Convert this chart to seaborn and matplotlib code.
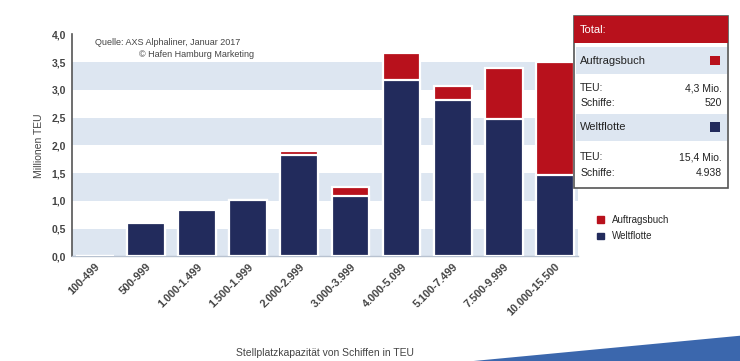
import matplotlib
matplotlib.use("Agg")
import matplotlib.pyplot as plt
from matplotlib.patches import Rectangle, Polygon
import seaborn as sns
import pandas as pd

kategorien = ["100-499", "500-999", "1.000-1.499", "1.500-1.999", "2.000-2.999",
              "3.000-3.999", "4.000-5.099", "5.100-7.499", "7.500-9.999", "10.000-15.500"]
weltflotte = [0.01, 0.60, 0.83, 1.01, 1.83, 1.09, 3.17, 2.82, 2.47, 1.46]
auftragsbuch = [0.0, 0.0, 0.0, 0.01, 0.07, 0.16, 0.49, 0.25, 0.93, 2.04]
y_ticks = [0.0, 0.5, 1.0, 1.5, 2.0, 2.5, 3.0, 3.5, 4.0]
y_labels = ["0,0", "0,5", "1,0", "1,5", "2,0", "2,5", "3,0", "3,5", "4,0"]

ROT = "#b8111c"
NAVY = "#222b5c"
BAND = "#dde6f1"
GRAU = "#444444"

df = pd.DataFrame({"kat": kategorien, "welt": weltflotte, "auftrag": auftragsbuch})
df["gesamt"] = df["welt"] + df["auftrag"]

sns.set_theme(style="white")
plt.rcParams["font.family"] = ["Liberation Sans", "DejaVu Sans"]

fig = plt.figure(figsize=(7.4, 3.61), dpi=100)
ax = fig.add_axes([0.097, 0.29, 0.684, 0.615])

for lo in [0.0, 1.0, 2.0, 3.0]:
    ax.axhspan(lo, lo + 0.5, color=BAND, zorder=0, lw=0)

sns.barplot(data=df, x="kat", y="gesamt", color=ROT, width=0.74, edgecolor="white",
            linewidth=1.6, saturation=1, ax=ax, zorder=2)
sns.barplot(data=df, x="kat", y="welt", color=NAVY, width=0.74, edgecolor="white",
            linewidth=1.6, saturation=1, ax=ax, zorder=3)

ax.set_xlim(-0.45, 9.45)
ax.set_ylim(0, 4.0)
ax.set_yticks(y_ticks)
ax.set_yticklabels(y_labels, fontsize=7.5, color=GRAU, fontweight="bold")
ax.set_xticks(range(len(kategorien)))
ax.set_xticklabels(kategorien, rotation=45, ha="right", rotation_mode="anchor",
                   fontsize=7.8, color=GRAU, fontweight="bold")
ax.tick_params(axis="both", length=0, pad=4)
ax.set_xlabel("Stellplatzkapazität von Schiffen in TEU", fontsize=7.5, color=GRAU, labelpad=22)
ax.set_ylabel("Millionen TEU", fontsize=7.5, color=GRAU, labelpad=6)
for s in ["top", "right"]:
    ax.spines[s].set_visible(False)
ax.spines["left"].set_color("#555555")
ax.spines["left"].set_linewidth(1.2)
ax.spines["bottom"].set_color("#b8c2d0")
ax.spines["bottom"].set_linewidth(1.0)

ax.text(0.045, 0.985, "Quelle: AXS Alphaliner, Januar 2017", transform=ax.transAxes,
        fontsize=6.5, color=GRAU, va="top", ha="left")
ax.text(0.36, 0.93, "© Hafen Hamburg Marketing", transform=ax.transAxes,
        fontsize=6.5, color=GRAU, va="top", ha="right")

# Legende
ax_leg_handles = [Rectangle((0, 0), 1, 1, color=ROT), Rectangle((0, 0), 1, 1, color=NAVY)]
fig.legend(ax_leg_handles, ["Auftragsbuch", "Weltflotte"], loc="upper left",
           bbox_to_anchor=(0.795, 0.43), frameon=False, fontsize=7,
           handlelength=0.7, handleheight=0.7, handletextpad=0.8, labelspacing=0.7)

# Info-Box
bx, by, bw, bh = 0.776, 0.48, 0.208, 0.475
fig.patches.append(Rectangle((bx, by), bw, bh, transform=fig.transFigure,
                             facecolor="white", edgecolor="#555555", lw=1.2, zorder=1))
fig.patches.append(Rectangle((bx, by + bh - 0.075), bw, 0.075, transform=fig.transFigure,
                             facecolor=ROT, edgecolor="none", zorder=2))
fig.text(bx + 0.008, by + bh - 0.037, "Total:", color="white", fontsize=8, va="center", zorder=3)
fig.patches.append(Rectangle((bx + 0.002, by + 0.315), bw - 0.004, 0.075, transform=fig.transFigure,
                             facecolor=BAND, edgecolor="none", zorder=2))
fig.text(bx + 0.008, by + 0.352, "Auftragsbuch", color="#222222", fontsize=8, va="center", zorder=3)
fig.patches.append(Rectangle((bx + bw - 0.025, by + 0.34), 0.014, 0.026, transform=fig.transFigure,
                             facecolor=ROT, edgecolor="none", zorder=3))
fig.text(bx + 0.008, by + 0.275, "TEU:", color="#222222", fontsize=7.5, va="center", zorder=3)
fig.text(bx + bw - 0.008, by + 0.275, "4,3 Mio.", color="#222222", fontsize=7.5, va="center", ha="right", zorder=3)
fig.text(bx + 0.008, by + 0.235, "Schiffe:", color="#222222", fontsize=7.5, va="center", zorder=3)
fig.text(bx + bw - 0.008, by + 0.235, "520", color="#222222", fontsize=7.5, va="center", ha="right", zorder=3)
fig.patches.append(Rectangle((bx + 0.002, by + 0.13), bw - 0.004, 0.075, transform=fig.transFigure,
                             facecolor=BAND, edgecolor="none", zorder=2))
fig.text(bx + 0.008, by + 0.167, "Weltflotte", color="#222222", fontsize=8, va="center", zorder=3)
fig.patches.append(Rectangle((bx + bw - 0.025, by + 0.155), 0.014, 0.026, transform=fig.transFigure,
                             facecolor=NAVY, edgecolor="none", zorder=3))
fig.text(bx + 0.008, by + 0.085, "TEU:", color="#222222", fontsize=7.5, va="center", zorder=3)
fig.text(bx + bw - 0.008, by + 0.085, "15,4 Mio.", color="#222222", fontsize=7.5, va="center", ha="right", zorder=3)
fig.text(bx + 0.008, by + 0.04, "Schiffe:", color="#222222", fontsize=7.5, va="center", zorder=3)
fig.text(bx + bw - 0.008, by + 0.04, "4.938", color="#222222", fontsize=7.5, va="center", ha="right", zorder=3)

# dekorativer Streifen unten rechts
fig.patches.append(Polygon([(0.64, 0.0), (1.0, 0.07), (1.0, 0.0)], closed=True,
                           transform=fig.transFigure, facecolor="#3b67ad", edgecolor="none"))

fig.savefig("out.png", dpi=100)
